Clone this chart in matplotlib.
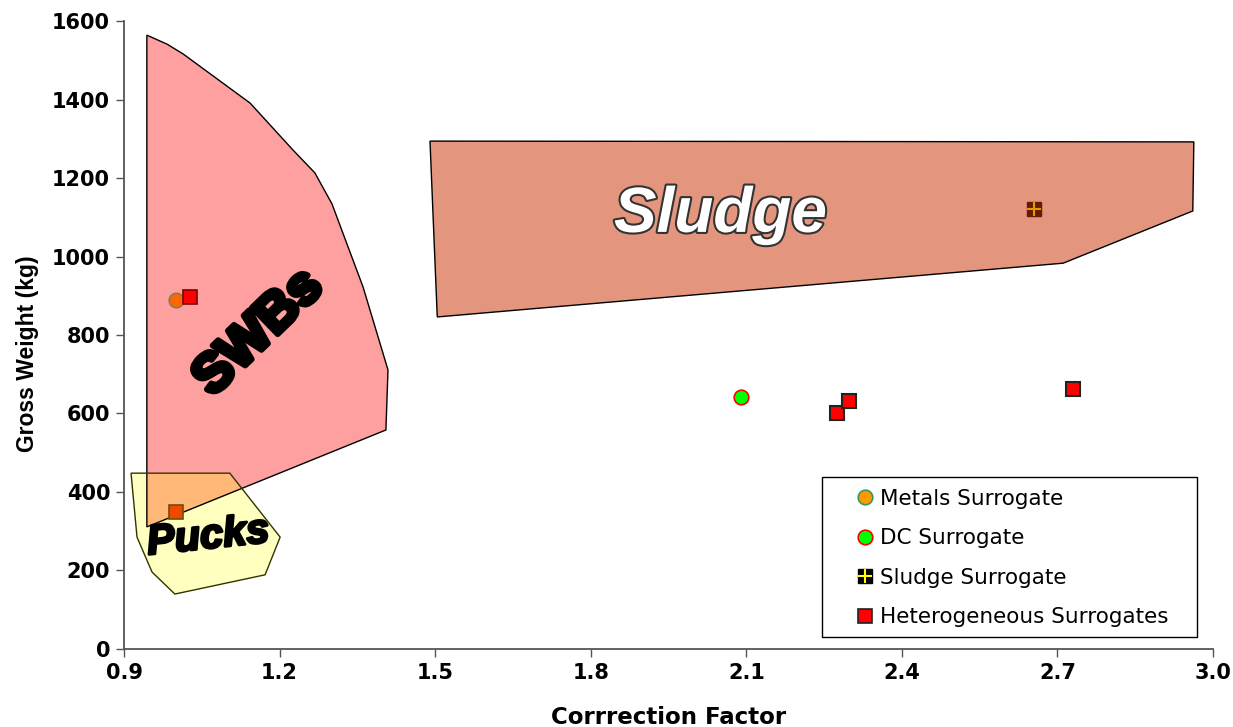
import matplotlib
matplotlib.use("Agg")
import matplotlib.pyplot as plt
import matplotlib.patheffects as pe
from matplotlib.patches import Polygon, Rectangle
from matplotlib.lines import Line2D

# region outlines (correction factor, gross weight)
swbs_x = [0.944, 0.983, 1.014, 1.143, 1.226, 1.268, 1.301, 1.361, 1.409, 1.405, 0.944]
swbs_y = [1564, 1541, 1516, 1391, 1271, 1213, 1134, 922, 711, 558, 311]
sludge_x = [1.490, 2.963, 2.961, 2.711, 1.504]
sludge_y = [1294, 1292, 1116, 983, 846]
pucks_x = [0.9135, 1.104, 1.201, 1.172, 0.998, 0.954, 0.925]
pucks_y = [448, 448, 285, 189, 140, 196, 285]

# surrogates
metals_x = [1.0]
metals_y = [889]
dc_x = [2.09]
dc_y = [641]
sludge_sur_x = [2.655]
sludge_sur_y = [1120]
het_x = [1.027, 1.0, 2.275, 2.298, 2.730]
het_y = [897, 349, 601, 632, 662]

plt.rcParams['font.family'] = ['DejaVu Sans']

fig = plt.figure(figsize=(12.33, 7.27), dpi=100)
ax = fig.add_axes([0.1006, 0.1073, 0.8832, 0.8638])

swbs = Polygon(list(zip(swbs_x, swbs_y)), closed=True, facecolor='#FFA0A0', edgecolor='none', zorder=1)
sludge = Polygon(list(zip(sludge_x, sludge_y)), closed=True, facecolor='#E3967D', edgecolor='black', lw=1, zorder=1)
pucks = Polygon(list(zip(pucks_x, pucks_y)), closed=True, facecolor='#FFFFC0', edgecolor='none', zorder=1.5)
ax.add_patch(swbs)
ax.add_patch(sludge)
ax.add_patch(pucks)
overlap = Polygon(list(zip(swbs_x, swbs_y)), closed=True, facecolor='#FFB878', edgecolor='none', zorder=1.7)
ax.add_patch(overlap)
overlap.set_clip_path(pucks)
ax.add_patch(Polygon(list(zip(swbs_x, swbs_y)), closed=True, fill=False, edgecolor='black', lw=1, zorder=2))
ax.add_patch(Polygon(list(zip(pucks_x, pucks_y)), closed=True, fill=False, edgecolor='#333300', lw=1, zorder=2))

# labels on the regions
ax.text(1.16, 805, 'SWBs', fontsize=39, fontweight='black', family='Liberation Sans',
        rotation=44, ha='center', va='center', color='black', zorder=3,
        path_effects=[pe.withStroke(linewidth=4, foreground='black')])
ax.text(2.05, 1106, 'Sludge', fontsize=46, fontweight='bold', style='italic', family='Liberation Sans',
        ha='center', va='center', color='white', zorder=3,
        path_effects=[pe.withStroke(linewidth=3, foreground='#333333')])
ax.text(1.062, 285, 'Pucks', fontsize=30, fontweight='bold', style='italic', family='Liberation Sans',
        rotation=6, ha='center', va='center', color='black', zorder=3,
        path_effects=[pe.withStroke(linewidth=2, foreground='black')])

# points
ax.plot(metals_x, metals_y, 'o', ms=10.5, mfc='#FF6600', mec='#807F55', mew=1.2, zorder=4)
ax.plot(dc_x, dc_y, 'o', ms=10.5, mfc='#00FF00', mec='#FF0000', mew=1.2, zorder=4)
ax.plot(sludge_sur_x, sludge_sur_y, 's', ms=10, mfc='#661A00', mec='#661A00', zorder=4)
ax.plot(sludge_sur_x, sludge_sur_y, '+', ms=10, mec='#E69900', mew=1.5, zorder=5)
ax.plot(het_x[:1], het_y[:1], 's', ms=9.5, mfc='#FF0000', mec='#800000', mew=1.2, zorder=4)
ax.plot(het_x[1:2], het_y[1:2], 's', ms=9.5, mfc='#F04800', mec='#705000', mew=1.2, zorder=4)
ax.plot(het_x[2:], het_y[2:], 's', ms=9.5, mfc='#FF0000', mec='#222222', mew=1.5, zorder=4)

ax.set_xlim(0.9, 3.0)
ax.set_ylim(0, 1600)
ax.set_xticks([0.9, 1.2, 1.5, 1.8, 2.1, 2.4, 2.7, 3.0])
ax.set_xticklabels(['0.9', '1.2', '1.5', '1.8', '2.1', '2.4', '2.7', '3.0'])
ax.set_yticks(range(0, 1601, 200))
for s in ['top', 'right']:
    ax.spines[s].set_visible(False)
for s in ['left', 'bottom']:
    ax.spines[s].set_color('#555555')
    ax.spines[s].set_linewidth(1.3)
ax.tick_params(direction='out', length=6, width=1, color='#555555', labelsize=15, pad=4)
for lab in ax.get_xticklabels() + ax.get_yticklabels():
    lab.set_fontweight('bold')

ax.set_xlabel('Corrrection Factor', fontsize=16.5, fontweight='bold')
ax.set_ylabel('Gross Weight (kg)', fontsize=16.5, fontweight='bold', family='Liberation Sans')
ax.xaxis.set_label_coords(0.5, -0.09)
ax.yaxis.set_label_coords(-0.078, 0.47)

# legend with a wide left margin like the original
ax.add_patch(Rectangle((0.641, 0.0191), 0.3443, 0.2548, transform=ax.transAxes,
                       facecolor='white', edgecolor='black', lw=1, zorder=5))
handles = [
    Line2D([], [], ls='none', marker='o', ms=10.5, mfc='#FF9900', mec='#339966', mew=1.2),
    Line2D([], [], ls='none', marker='o', ms=10.5, mfc='#00FF00', mec='#FF0000', mew=1.2),
    (Line2D([], [], ls='none', marker='s', ms=10, mfc='black', mec='black'),
     Line2D([], [], ls='none', marker='+', ms=10, mec='#FFFF00', mew=1.5)),
    Line2D([], [], ls='none', marker='s', ms=9.5, mfc='#FF0000', mec='#222222', mew=1.2),
]
labels = ['Metals Surrogate', 'DC Surrogate', 'Sludge Surrogate', 'Heterogeneous Surrogates']
leg = ax.legend(handles, labels, loc='center left', bbox_to_anchor=(0.6703, 0.1449),
                fontsize=15.5, frameon=False, handlelength=1.0, handletextpad=0.2,
                labelspacing=0.91, borderpad=0, borderaxespad=0)
leg.set_zorder(6)

fig.savefig('out.png', dpi=100)
